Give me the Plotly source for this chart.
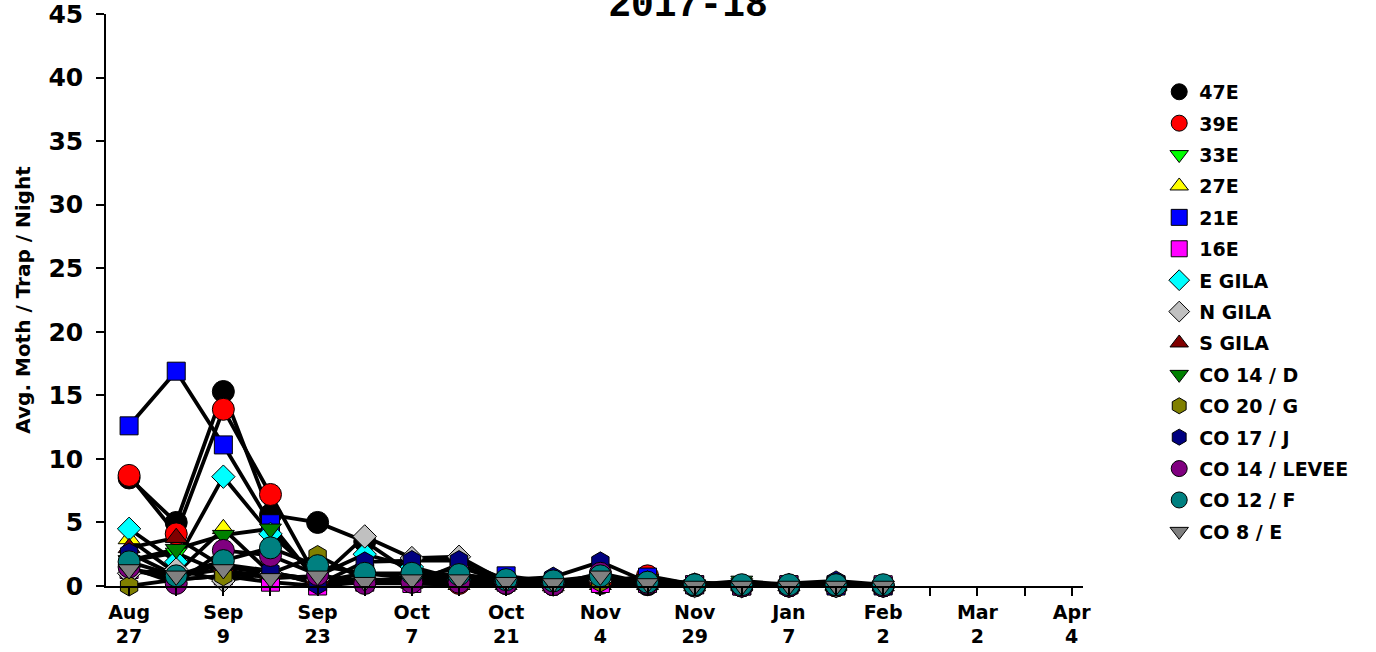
import plotly.graph_objects as go

# x positions are sample indices; labels every second index
tick_positions = list(range(21))
tick_labels = ["Aug<br>27", "", "Sep<br>9", "", "Sep<br>23", "", "Oct<br>7", "", "Oct<br>21", "",
               "Nov<br>4", "", "Nov<br>29", "", "Jan<br>7", "", "Feb<br>2", "", "Mar<br>2", "", "Apr<br>4"]
sample_index = list(range(17))

names = ["47E", "39E", "33E", "27E", "21E", "16E", "E GILA", "N GILA", "S GILA",
         "CO 14 / D", "CO 20 / G", "CO 17 / J", "CO 14 / LEVEE", "CO 12 / F", "CO 8 / E"]

v_47E = [8.5, 5.0, 15.3, 5.6, 5.0, 3.5, 1.0, 0.3, 0.2, 0.1, 0.2, 0.1, 0, 0, 0, 0, 0]
v_39E = [8.7, 4.1, 13.9, 7.2, 0.5, 0.4, 0.3, 0.2, 0.2, 0.1, 0.3, 0.8, 0.1, 0, 0, 0, 0]
v_33E = [2.0, 2.6, 1.0, 1.0, 0.3, 0.2, 0.2, 0.1, 0.1, 0.1, 0.2, 0.5, 0.1, 0.2, 0, 0, 0]
v_27E = [3.7, 1.0, 4.5, 1.0, 0.3, 0.3, 0.2, 0.1, 0.1, 0, 0.1, 0.1, 0, 0, 0, 0, 0]
v_21E = [12.6, 16.9, 11.1, 4.9, 0.3, 1.0, 0.6, 0.5, 0.8, 0.3, 0.4, 0.7, 0.1, 0, 0.1, 0, 0]
v_16E = [1.3, 0.5, 0.8, 0.3, 0.0, 0.3, 0.2, 1.7, 0.3, 0.2, 0.2, 0.2, 0.1, 0, 0.1, 0.1, 0.1]
v_EGILA = [4.5, 1.9, 8.6, 4.1, 0.8, 2.5, 1.5, 0.5, 0.4, 0.2, 0.8, 0.3, 0.1, 0, 0.1, 0, 0]
v_NGILA = [1.0, 1.3, 0.4, 1.0, 0.5, 3.9, 2.2, 2.3, 0.3, 0.2, 0.4, 0.2, 0, 0, 0, 0, 0]
v_SGILA = [3.0, 3.8, 1.5, 1.0, 0.5, 0.5, 0.5, 1.5, 0.3, 0.2, 0.3, 0.3, 0.3, 0.1, 0, 0.1, 0]
v_CO14D = [2.0, 2.9, 4.0, 4.5, 0.5, 0.5, 0.3, 0.3, 0.2, 0.1, 0.3, 0.5, 0.1, 0.4, 0.1, 0, 0]
v_CO20G = [0.0, 0.5, 0.8, 1.0, 2.4, 0.5, 0.3, 1.0, 0.2, 0.1, 0.3, 0.2, 0, 0.1, 0, 0, 0]
v_CO17J = [2.6, 0.8, 1.7, 1.2, 0.1, 1.9, 2.0, 2.0, 0.5, 0.7, 1.9, 0.3, 0.1, 0.1, 0.2, 0.4, 0.1]
v_CO14L = [1.5, 0.2, 2.8, 2.4, 0.9, 0.2, 0.3, 0.3, 0.2, 0.1, 1.0, 0.2, 0.1, 0, 0, 0.1, 0]
v_CO12F = [1.9, 0.8, 2.0, 3.0, 1.6, 1.0, 1.0, 0.9, 0.5, 0.4, 0.8, 0.3, 0.1, 0.1, 0.1, 0.1, 0.1]
v_CO8E = [1.3, 0.8, 1.3, 0.6, 0.8, 0.3, 0.5, 0.5, 0.3, 0.2, 0.8, 0.2, 0, 0, 0, 0, 0]

series = [v_47E, v_39E, v_33E, v_27E, v_21E, v_16E, v_EGILA, v_NGILA, v_SGILA,
          v_CO14D, v_CO20G, v_CO17J, v_CO14L, v_CO12F, v_CO8E]
colors = ["#000000", "#FF0000", "#00FF00", "#FFFF00", "#0000FF", "#FF00FF", "#00FFFF", "#C0C0C0",
          "#800000", "#008000", "#808000", "#000080", "#800080", "#008080", "#808080"]
symbols = ["circle", "circle", "triangle-down", "triangle-up", "square", "square", "diamond", "diamond",
           "triangle-up", "triangle-down", "hexagon", "hexagon", "circle", "circle", "triangle-down"]
sizes = {"circle": 22, "square": 18, "diamond": 18, "triangle-up": 19, "triangle-down": 19, "hexagon": 20}

FONT = "DejaVu Sans"
fig = go.Figure()

# lines first (beneath all symbols)
for name, vals in zip(names, series):
    fig.add_trace(go.Scatter(x=sample_index, y=vals, mode="lines", name=name,
                             line=dict(color="black", width=3.8), showlegend=False,
                             hoverinfo="skip", cliponaxis=False))

for name, vals, col, sym in zip(names, series, colors, symbols):
    fig.add_trace(go.Scatter(x=sample_index, y=vals, mode="markers", name=name, legendgroup=name,
                             marker=dict(symbol=sym, size=sizes[sym], color=col,
                                         line=dict(color="black", width=1)),
                             cliponaxis=False))

fig.update_layout(
    width=1376, height=652,
    paper_bgcolor="white", plot_bgcolor="white",
    margin=dict(l=106, r=293, t=14, b=66, autoexpand=False),
    title=dict(text="2017-18", x=0.5, xref="container", xanchor="center",
               y=1 - 16 / 652, yref="container", yanchor="bottom", automargin=False,
               font=dict(family="Liberation Mono", size=38, color="black", weight="bold")),
    font=dict(family=FONT, color="black", weight="bold"),
    showlegend=True,
    legend=dict(x=1.078, xanchor="left", y=0.897, yanchor="top",
                font=dict(family=FONT, size=19, color="black", weight="bold"),
                tracegroupgap=3.7, bgcolor="rgba(0,0,0,0)", itemsizing="trace"),
    xaxis=dict(range=[-0.49, 20.24], tickmode="array", tickvals=tick_positions, ticktext=tick_labels,
               automargin=False, ticklabeloverflow="allow",
               showline=True, linecolor="black", linewidth=1.5, ticks="outside", ticklen=8,
               tickwidth=1.5, tickcolor="black", showgrid=False, zeroline=False,
               tickfont=dict(family=FONT, size=19, color="black", weight="bold")),
    yaxis=dict(range=[0, 45], tickmode="array", tickvals=[0, 5, 10, 15, 20, 25, 30, 35, 40, 45],
               automargin=False, ticklabelstandoff=8, ticklabeloverflow="allow",
               showline=True, linecolor="black", linewidth=1.5, ticks="outside", ticklen=8,
               tickwidth=1.5, tickcolor="black", showgrid=False, zeroline=False,
               tickfont=dict(family=FONT, size=25, color="black", weight="bold"),
               title=dict(text="Avg. Moth / Trap / Night", standoff=12,
                          font=dict(family=FONT, size=20, color="black", weight="bold"))),
)

fig.write_html("out.html", config={"displayModeBar": False},
               post_script="document.body.style.margin='0';")
